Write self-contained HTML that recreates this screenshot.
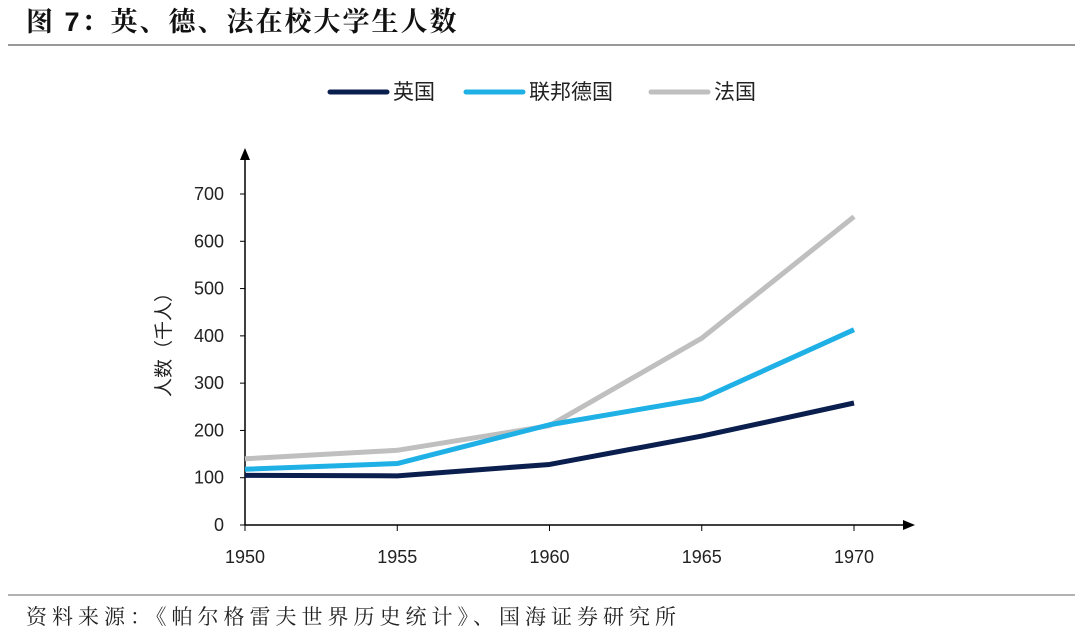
<!DOCTYPE html>
<html><head><meta charset="utf-8"><style>
body{margin:0;background:#fff;width:1080px;height:633px;overflow:hidden;font-family:"Liberation Sans","Noto Serif CJK SC",serif}
svg text{font-family:"Liberation Sans","Noto Sans CJK SC",sans-serif}
</style></head><body>
<svg width="1080" height="633">
<text x="26" y="31" font-size="27" font-weight="bold" fill="#111" letter-spacing="2" style="font-family:'Liberation Sans','Noto Serif CJK SC',serif">图 7：英、德、法在校大学生人数</text>
<line x1="8" y1="45" x2="1075" y2="45" stroke="#999" stroke-width="2"/>
<line x1="8" y1="595" x2="1075" y2="595" stroke="#999" stroke-width="1.5"/>
<text x="26" y="624" font-size="21" fill="#222" letter-spacing="5" style="font-family:'Liberation Sans','Noto Serif CJK SC',serif">资料来源：《帕尔格雷夫世界历史统计》、国海证券研究所</text>
<g id="legend"></g>
<g id="axes"></g>
<g id="plot"></g>
<text transform="translate(170,340) rotate(-90)" text-anchor="middle" font-size="19" fill="#222">人数（千人）</text>
</svg>
<script>
const categories=[1950,1955,1960,1965,1970];
const ukValues=[105,104,128,188,258];
const deValues=[118,130,212,267,413];
const frValues=[140,158,210,395,652];
const yTicks=[0,100,200,300,400,500,600,700];
const seriesNames=["英国","联邦德国","法国"];
const colors=["#0b1f4f","#1fb0e6","#bfbfbf"];
const NS="http://www.w3.org/2000/svg";
function X(i){return 245+i*(854-245)/(categories.length-1);}
function Y(v){return 525-v*(525-194)/700;}
function mk(tag,attrs,parent){const e=document.createElementNS(NS,tag);for(const k in attrs)e.setAttribute(k,attrs[k]);parent.appendChild(e);return e;}
const axes=document.getElementById('axes'),plot=document.getElementById('plot'),legend=document.getElementById('legend');
let yl=mk('line',{x1:245,y1:525,x2:245,y2:158,stroke:'#000','stroke-width':1.5},axes);


let ya=mk('polygon',{points:'240,160 250,160 245,148'},axes);


let xl=mk('line',{x1:245,y1:525,x2:905,y2:525,stroke:'#000','stroke-width':1.5},axes);


let xa=mk('polygon',{points:'903,520 903,530 915,525'},axes);


yTicks.forEach(v=>{
 const t=mk('text',{x:224,y:Y(v)+6,'text-anchor':'end','font-size':18,fill:'#222'},axes);t.textContent=v;
 
 
 const tk=mk('line',{x1:240,y1:Y(v),x2:245,y2:Y(v),stroke:'#000'},axes);
 
 
});
categories.forEach((c,i)=>{
 const t=mk('text',{x:X(i),y:563,'text-anchor':'middle','font-size':18,fill:'#222'},axes);t.textContent=c;
 
 
 const tk=mk('line',{x1:X(i),y1:525,x2:X(i),y2:531,stroke:'#000'},axes);
 
 
});
const series=[ukValues,deValues,frValues];
const snames=['series-uk','series-west-germany','series-france'];
[2,1,0].forEach(s=>{
 const p=mk('polyline',{points:series[s].map((v,i)=>X(i)+','+Y(v)).join(' '),fill:'none',stroke:colors[s],'stroke-width':5,'stroke-linejoin':'round'},plot);
 
 
});
const lx=[330,466,651];
seriesNames.forEach((n,s)=>{
 const l=mk('line',{x1:lx[s],y1:92,x2:lx[s]+57,y2:92,stroke:colors[s],'stroke-width':5,'stroke-linecap':'round'},legend);
 
 
 const t=mk('text',{x:lx[s]+63,y:99,'font-size':21,fill:'#222'},legend);t.textContent=n;
 
 
});
</script>
</body></html>
